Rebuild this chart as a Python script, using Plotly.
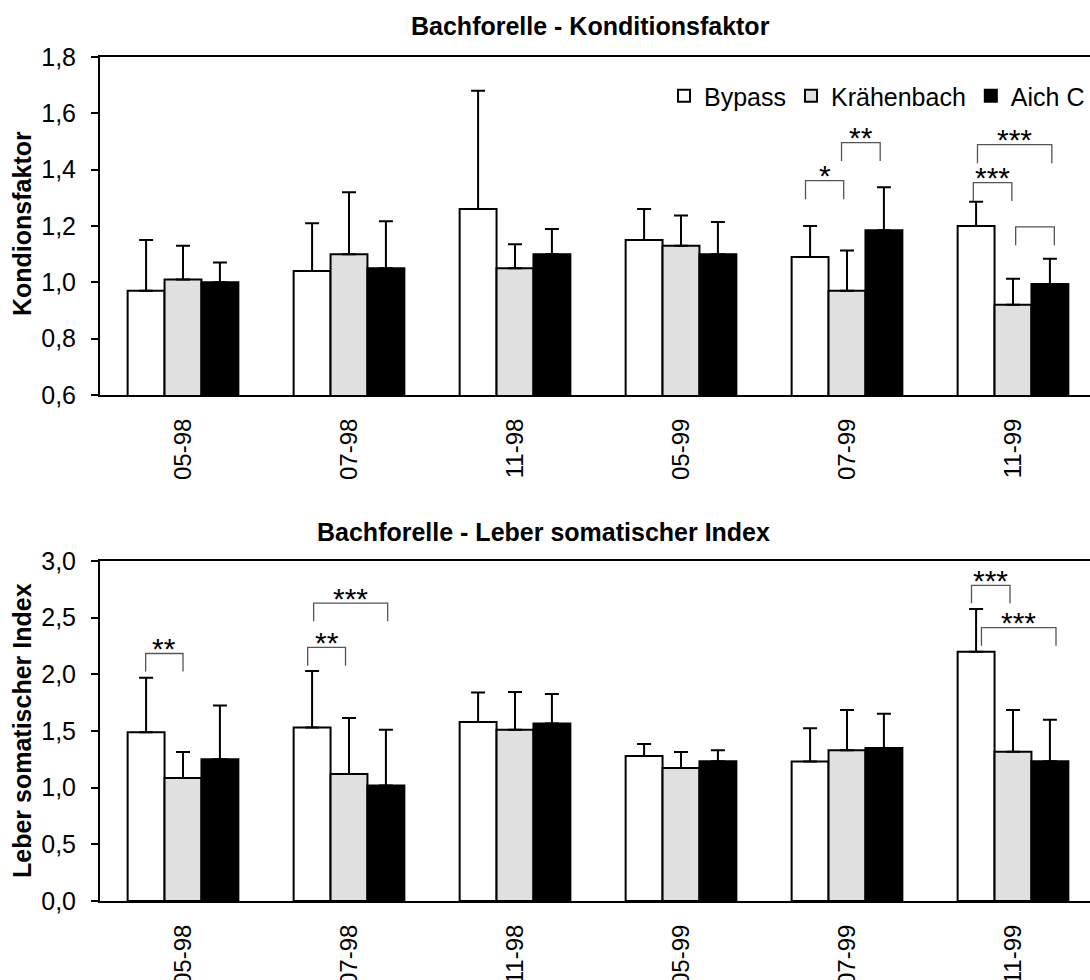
import plotly.graph_objects as go

# ---------------- data ----------------
categories = ["05-98", "07-98", "11-98", "05-99", "07-99", "11-99"]
series_names = ["Bypass", "Krähenbach", "Aich C"]

# Konditionsfaktor (means and upper standard deviations)
kf_bypass = [0.97, 1.04, 1.26, 1.15, 1.09, 1.20]
kf_bypass_sd = [0.18, 0.17, 0.42, 0.11, 0.11, 0.086]
kf_kraehenbach = [1.01, 1.10, 1.05, 1.13, 0.97, 0.92]
kf_kraehenbach_sd = [0.12, 0.22, 0.085, 0.107, 0.143, 0.093]
kf_aich = [1.00, 1.05, 1.10, 1.10, 1.185, 0.994]
kf_aich_sd = [0.07, 0.167, 0.089, 0.114, 0.153, 0.09]

# Leber somatischer Index
lsi_bypass = [1.49, 1.53, 1.58, 1.28, 1.23, 2.20]
lsi_bypass_sd = [0.48, 0.50, 0.26, 0.106, 0.295, 0.376]
lsi_kraehenbach = [1.085, 1.12, 1.51, 1.173, 1.33, 1.318]
lsi_kraehenbach_sd = [0.23, 0.494, 0.335, 0.142, 0.355, 0.367]
lsi_aich = [1.25, 1.02, 1.567, 1.233, 1.351, 1.233]
lsi_aich_sd = [0.476, 0.49, 0.26, 0.097, 0.301, 0.367]

# significance brackets: (panel, group, start offset, end offset, leg bottom, bracket top, label)
brackets = [
    (1, 4, -0.25, -0.02, 1.295, 1.361, "*"),
    (1, 4, -0.033, 0.20, 1.431, 1.496, "**"),
    (1, 5, -0.239, -0.007, 1.289, 1.354, "***"),
    (1, 5, -0.214, 0.234, 1.423, 1.489, "***"),
    (1, 5, 0.016, 0.249, 1.132, 1.197, ""),
    (2, 0, -0.225, 0.0, 2.025, 2.184, "**"),
    (2, 1, -0.249, -0.021, 2.075, 2.238, "**"),
    (2, 1, -0.213, 0.233, 2.468, 2.628, "***"),
    (2, 5, -0.25, -0.018, 2.628, 2.785, "***"),
    (2, 5, -0.19, 0.259, 2.252, 2.412, "***"),
]

fills = ["#ffffff", "#e0e0e0", "#000000"]
FONT = "Liberation Sans, Arial, sans-serif"

fig = go.Figure()

panels = [
    (("x", "y"), [kf_bypass, kf_kraehenbach, kf_aich],
     [kf_bypass_sd, kf_kraehenbach_sd, kf_aich_sd], True),
    (("x2", "y2"), [lsi_bypass, lsi_kraehenbach, lsi_aich],
     [lsi_bypass_sd, lsi_kraehenbach_sd, lsi_aich_sd], False),
]

for (xa, ya), vals, sds, show in panels:
    for name, v, sd, col in zip(series_names, vals, sds, fills):
        fig.add_trace(go.Bar(
            x=categories, y=v, name=name, xaxis=xa, yaxis=ya,
            showlegend=show,
            marker=dict(color=col, line=dict(color="black", width=2)),
            error_y=dict(type="data", array=sd, arrayminus=[0] * len(sd),
                         symmetric=False, color="black", thickness=2, width=7),
        ))

# brackets
for panel, g, o0, o1, yb, yt, lab in brackets:
    xr, yr = ("x", "y") if panel == 1 else ("x2", "y2")
    fig.add_shape(type="path",
                  path=f"M {g + o0} {yb} L {g + o0} {yt} L {g + o1} {yt} L {g + o1} {yb}",
                  xref=xr, yref=yr, line=dict(color="#555555", width=1.3))
    if lab:
        fig.add_annotation(x=g + (o0 + o1) / 2, y=yt, xref=xr, yref=yr, text=lab,
                           showarrow=False, yanchor="middle", yshift=5,
                           font=dict(size=30, color="black", family=FONT))

H = 980.0
W = 1090.0
L = 100.0
band = 166.0
xmax = -0.5 + (W - L) / band

axis_common = dict(showline=True, linecolor="black", linewidth=2, showgrid=False,
                   zeroline=False, automargin=False)

fig.update_layout(
    width=1090, height=980,
    margin=dict(l=100, r=0, t=0, b=0, pad=0, autoexpand=False),
    paper_bgcolor="white", plot_bgcolor="white",
    separators=",.",
    barmode="group", bargap=0.333, bargroupgap=0,
    font=dict(family=FONT, size=24, color="black"),
    xaxis=dict(domain=[0, 1], anchor="y", range=[-0.5, xmax], mirror=True,
               ticks="", tickangle=-90, ticklabelstandoff=12,
               tickfont=dict(size=24), **axis_common),
    yaxis=dict(domain=[1 - 395 / H, 1 - 57 / H], anchor="x", range=[0.6, 1.8],
               dtick=0.2, tick0=0.6, tickformat=".1f", ticks="outside", ticklen=7,
               tickwidth=1.5, tickcolor="black", ticklabelstandoff=10,
               tickfont=dict(size=25), **axis_common),
    xaxis2=dict(domain=[0, 1], anchor="y2", range=[-0.5, xmax], mirror=True,
                ticks="", tickangle=-90, ticklabelstandoff=12,
                tickfont=dict(size=24), **axis_common),
    yaxis2=dict(domain=[1 - 901 / H, 1 - 561 / H], anchor="x2", range=[0, 3],
                dtick=0.5, tick0=0, tickformat=".1f", ticks="outside", ticklen=7,
                tickwidth=1.5, tickcolor="black", ticklabelstandoff=10,
                tickfont=dict(size=25), **axis_common),
    legend=dict(orientation="h", x=1, xanchor="right", y=1 - 96 / H, yanchor="middle",
                font=dict(size=25), bgcolor="rgba(0,0,0,0)", itemwidth=30,
                traceorder="normal"),
)

def px_x(p):
    return (p - L) / (W - L)

# titles
fig.add_annotation(text="<b>Bachforelle - Konditionsfaktor</b>", xref="paper", yref="paper",
                   x=px_x(590), y=1 - 26 / H, xanchor="center", yanchor="middle",
                   showarrow=False, font=dict(size=25, family=FONT))
fig.add_annotation(text="<b>Bachforelle - Leber somatischer Index</b>", xref="paper", yref="paper",
                   x=px_x(543), y=1 - 532 / H, xanchor="center", yanchor="middle",
                   showarrow=False, font=dict(size=25, family=FONT))
# axis titles
fig.add_annotation(text="<b>Kondionsfaktor</b>", xref="paper", yref="paper",
                   x=px_x(22), y=1 - 224 / H, xanchor="center", yanchor="middle",
                   textangle=-90, showarrow=False, font=dict(size=25, family=FONT))
fig.add_annotation(text="<b>Leber somatischer Index</b>", xref="paper", yref="paper",
                   x=px_x(22), y=1 - 731 / H, xanchor="center", yanchor="middle",
                   textangle=-90, showarrow=False, font=dict(size=25, family=FONT))

fig.write_html("out.html")
